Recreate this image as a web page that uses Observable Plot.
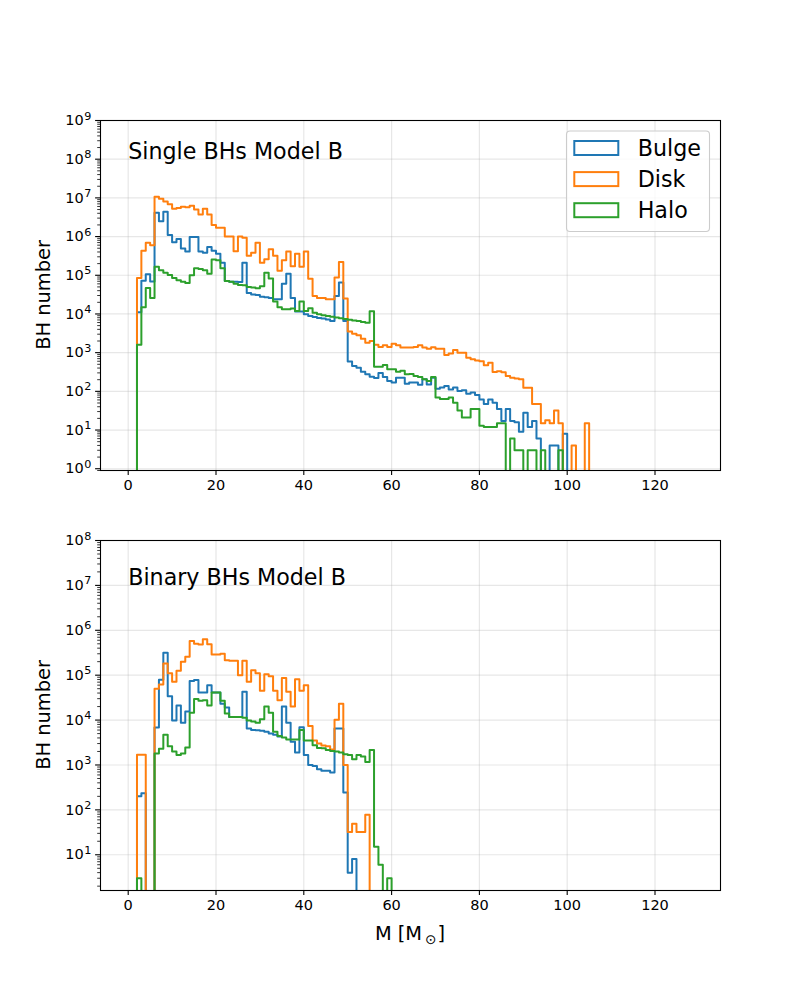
<!DOCTYPE html>
<html><head><meta charset="utf-8">
<script src="https://cdn.jsdelivr.net/npm/d3@7"></script>
<script src="https://cdn.jsdelivr.net/npm/@observablehq/plot@0.6"></script>
<style>
body{margin:0;background:#fff;}
#chart{width:800px;font-family:"DejaVu Sans";}
#chart svg{display:block;}
</style></head><body><div id="chart"></div>
<script>
// ---------------- data ----------------
const seriesNames = ["Bulge", "Disk", "Halo"];
const seriesColors = ["#1f77b4", "#ff7f0e", "#2ca02c"];
const binWidth = 1; // M_sun

// Single BHs: counts per bin, first bin starts at singleStart
const singleStart = 2;
const singleBulge = [11000, 72000, 107000, 69000, 4100000, 2500000, 4400000, 1100000, 710000, 870000,
  490000, 410000, 980000, 980000, 410000, 380000, 540000, 430000, 360000, 210000,
  71000, 68000, 68000, 67000, 210000, 35000, 32000, 31000, 28000, 27000,
  26000, 24000, 24000, 60000, 110000, 26000, 11500, 11500, 9800, 8900,
  8300, 7900, 7600, 7200, 6600, 29000, 65000, 6600, 590, 450,
  410, 320, 275, 240, 220, 300, 235, 186, 170, 224,
  224, 158, 170, 170, 148, 204, 151, 224, 117, 126,
  138, 112, 126, 102, 107, 87, 93, 81, 62, 47,
  62, 51, 35, 17, 35, 17, 16, 9, 28, 12,
  17, 6, 0, 0, 4, 4, 0, 8];
const singleDisk = [85000, 430000, 690000, 600000, 10700000, 9500000, 8100000, 6800000, 5200000, 5500000,
  5900000, 5700000, 6300000, 5000000, 3700000, 5200000, 3700000, 2000000, 1700000, 1700000,
  1000000, 1000000, 420000, 1000000, 930000, 320000, 380000, 690000, 210000, 260000,
  470000, 320000, 130000, 245000, 410000, 170000, 360000, 166000, 410000, 81000,
  29000, 26000, 26000, 24000, 24000, 87000, 220000, 25000, 3500, 3100,
  2800, 2300, 1800, 2000, 1600, 1400, 1550, 1400, 1700, 1550,
  1350, 1350, 1350, 1400, 1550, 1350, 1260, 1380, 1260, 1260,
  870, 950, 1170, 1000, 1000, 740, 680, 630, 600, 470,
  550, 316, 330, 310, 250, 224, 214, 204, 123, 123,
  47, 47, 15, 18, 15, 32, 15, 0, 0, 4,
  0, 0, 15];
const singleHalo = [1600, 15000, 47000, 26000, 166000, 135000, 117000, 102000, 85000, 74000,
  68000, 63000, 100000, 151000, 145000, 135000, 110000, 257000, 245000, 151000,
  71000, 68000, 60000, 56000, 55000, 50000, 48000, 46000, 52000, 117000,
  83000, 21000, 15000, 13200, 13200, 13800, 12000, 21000, 12000, 14000,
  10700, 9800, 9300, 8900, 8500, 8100, 7800, 7400, 7100, 6800,
  6600, 6200, 5900, 11700, 430, 430, 480, 370, 370, 320,
  340, 275, 280, 250, 235, 204, 186, 235, 69, 63,
  63, 69, 51, 32, 21, 21, 35, 35, 13, 12,
  12, 12, 15, 15, 0, 6, 3, 3, 0, 3,
  3, 0, 3, 0, 0, 0, 3];

// Binary BHs
const binaryStart = 2;
const binaryBulge = [200, 234, 0, 0, 6800, 79000, 316000, 34000, 9800, 21000,
  8700, 15500, 74000, 78000, 41000, 41000, 60000, 41000, 41000, 23000,
  19000, 11700, 11700, 11700, 43000, 6500, 6000, 5900, 5750, 5500,
  5000, 4700, 4300, 20000, 8700, 3300, 1900, 6900, 1660, 1000,
  950, 800, 740, 740, 680, 6500, 6500, 245, 4, 8];
const binaryDisk = [1700, 1700, 0, 0, 50000, 62000, 182000, 110000, 71000, 126000,
  200000, 257000, 575000, 500000, 480000, 630000, 490000, 290000, 290000, 300000,
  214000, 209000, 209000, 100000, 209000, 71000, 129000, 110000, 45000, 105000,
  95000, 45000, 27500, 87000, 43000, 20000, 81000, 45000, 60000, 7400,
  3500, 3000, 2700, 2600, 2200, 10200, 23000, 1000, 32, 49,
  32, 32, 78];
const binaryHalo = [3, 0, 0, 0, 1800, 2300, 4700, 2600, 2000, 1660,
  1800, 2450, 14500, 29500, 27000, 27500, 21000, 41000, 41000, 27000,
  14000, 11700, 11700, 11700, 11200, 9800, 9300, 8700, 10500, 20000,
  14500, 5500, 4400, 4100, 3700, 3700, 3700, 6000, 3500, 3500,
  2750, 2400, 2350, 2150, 2050, 2000, 1900, 1740, 1660, 1350,
  1660, 1550, 1170, 2150, 15, 6, 0, 3];

// ticks & labels
const xTicks = [0, 20, 40, 60, 80, 100, 120];
const singleYTicks = [1, 1e1, 1e2, 1e3, 1e4, 1e5, 1e6, 1e7, 1e8, 1e9];
const binaryYTicks = [1e1, 1e2, 1e3, 1e4, 1e5, 1e6, 1e7, 1e8];
const singleTitle = "Single BHs Model B";
const binaryTitle = "Binary BHs Model B";
const singleTitleAt = [0, 1e8];
const binaryTitleAt = [0, 1e7];
const yLabel = "BH number";
const xLabel = ["M [M", "\u2299", "]"];

// ---------------- helpers ----------------
const FLOOR = 1e-3;
function stepPoints(counts, start, name) {
  const pts = [{x: start, y: FLOOR, s: name}];
  counts.forEach((c, i) => {
    const v = c > 0 ? c : FLOOR;
    pts.push({x: start + i * binWidth, y: v, s: name});
    pts.push({x: start + (i + 1) * binWidth, y: v, s: name});
  });
  pts.push({x: start + counts.length * binWidth, y: FLOOR, s: name});
  return pts;
}
// tick label text "10^n"; rebuilt below with a real superscript tspan
const expFmt = d => "10^" + Math.round(Math.log10(d));
function minorTicks([lo, hi]) {
  const out = [];
  for (let e = Math.floor(Math.log10(lo)); e < Math.ceil(Math.log10(hi)); e++)
    for (let m = 2; m <= 9; m++) { const v = m * Math.pow(10, e); if (v >= lo && v <= hi) out.push(v); }
  return out;
}

const xDomain = [-6.31, 134.92];
const gridStyle = {stroke: "#b0b0b0", strokeOpacity: 0.3, strokeWidth: 1.2};
const TICK_FS = 14.5;

function panel({series, start, yDomain, yTicks, title, titleAt, marginTop, marginBottom}) {
  const marks = [
    Plot.gridX(xTicks, gridStyle),
    Plot.gridY(yTicks, gridStyle),
  ];
  series.forEach((counts, i) => {
    marks.push(Plot.line(stepPoints(counts, start, seriesNames[i]), {
      x: "x", y: "y", stroke: seriesColors[i], strokeWidth: 2, curve: "linear", clip: true
    }));
  });
  marks.push(
    Plot.axisX(xTicks, {tickSize: 4.9, tickPadding: 4.2, fontSize: TICK_FS, label: null, strokeWidth: 1.1}),
    Plot.axisY(yTicks, {tickSize: 4.9, tickPadding: 4.2, fontSize: TICK_FS, label: null, tickFormat: expFmt, strokeWidth: 1.1}),
    Plot.axisY(minorTicks(yDomain), {tickSize: 2.8, tickFormat: () => "", label: null, strokeWidth: 0.8}),
    Plot.frame({stroke: "black", strokeWidth: 1.1}),
    Plot.text([{x: titleAt[0], y: titleAt[1], t: title}], {
      x: "x", y: "y", text: "t", textAnchor: "start", lineAnchor: "bottom", fontSize: 22.2, fill: "black"
    })
  );
  const svg = Plot.plot({
    width: 800, height: 500,
    marginTop, marginBottom, marginLeft: 100, marginRight: 80,
    x: {domain: xDomain},
    y: {type: "log", domain: yDomain},
    style: {fontFamily: "DejaVu Sans", fontSize: TICK_FS + "px", color: "black", background: "white", overflow: "visible"},
    marks
  });
  // rebuild "10^n" labels as 10 + superscript
  d3.select(svg).selectAll("text").each(function() {
    const s = this.textContent;
    const m = /^10\^(\d+)$/.exec(s);
    if (!m) return;
    const t = d3.select(this);
    t.style("font-size", TICK_FS + "px");
    t.text(null);
    t.append("tspan").text("10");
    t.append("tspan").attr("dx", 0.5).attr("dy", -5.6).style("font-size", "11.2px").text(m[1]);
  });
  return svg;
}

// ---------------- render ----------------
const chartEl = document.getElementById("chart");

const topSvg = panel({
  series: [singleBulge, singleDisk, singleHalo], start: singleStart,
  yDomain: [0.9, 1e9], yTicks: singleYTicks, title: singleTitle, titleAt: singleTitleAt,
  marginTop: 120, marginBottom: 30
});
const bottomSvg = panel({
  series: [binaryBulge, binaryDisk, binaryHalo], start: binaryStart,
  yDomain: [1.6, 1e8], yTicks: binaryYTicks, title: binaryTitle, titleAt: binaryTitleAt,
  marginTop: 40, marginBottom: 110
});
chartEl.appendChild(topSvg);
chartEl.appendChild(bottomSvg);

// y labels
[[topSvg, 295], [bottomSvg, 215]].forEach(([svg, cy]) => {
  d3.select(svg).append("text")
    .attr("transform", `translate(50,${cy}) rotate(-90)`)
    .attr("text-anchor", "middle")
    .attr("font-family", "DejaVu Sans").style("font-size", "19.4px").attr("fill", "black")
    .text(yLabel);
});

// x label (bottom panel only)
{
  const t = d3.select(bottomSvg).append("text")
    .attr("x", 410).attr("y", 440).attr("text-anchor", "middle")
    .attr("font-family", "DejaVu Sans").style("font-size", "19.4px").attr("fill", "black");
  t.append("tspan").text(xLabel[0]);
  t.append("tspan").attr("dx", 3).attr("dy", 3.5).style("font-size", "13.6px").text(xLabel[1]);
  t.append("tspan").attr("dx", 1).attr("dy", -3.5).style("font-size", "19.4px").text(xLabel[2]);
}

// legend (top panel)
{
  const lg = d3.select(topSvg).append("g").attr("font-family", "DejaVu Sans").attr("text-anchor", "start");
  lg.append("rect").attr("x", 566.5).attr("y", 131).attr("width", 143).attr("height", 100.5)
    .attr("rx", 3.5).attr("fill", "white").attr("fill-opacity", 0.8)
    .attr("stroke", "#cccccc").attr("stroke-width", 1.1);
  seriesNames.forEach((n, i) => {
    const cy = 148 + i * 31.1;
    lg.append("rect").attr("x", 574.3).attr("y", cy - 7).attr("width", 44).attr("height", 14)
      .attr("fill", "none").attr("stroke", seriesColors[i]).attr("stroke-width", 2);
    lg.append("text").attr("x", 637.7).attr("y", cy).attr("dy", "0.365em")
      .attr("text-anchor", "start")
      .style("font-size", "22.2px").attr("fill", "black").text(n);
  });
}
</script></body></html>
